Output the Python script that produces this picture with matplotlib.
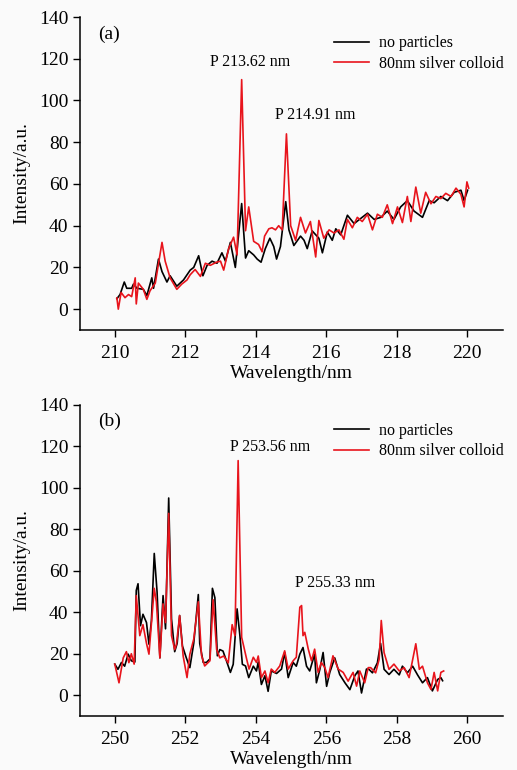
import matplotlib.pyplot as plt

plt.rcParams['font.family'] = ['Liberation Serif', 'DejaVu Serif']

# ---- panel (a): 210-220 nm ----
wl_a_black = [210.06, 210.15, 210.27, 210.34, 210.48, 210.53, 210.63, 210.81, 210.91, 211.05,
              211.10, 211.24, 211.34, 211.48, 211.57, 211.76, 211.95, 212.14, 212.24, 212.38,
              212.50, 212.62, 212.76, 212.90, 213.04, 213.14, 213.28, 213.42, 213.60, 213.71,
              213.80, 213.94, 214.04, 214.15, 214.27, 214.40, 214.51, 214.59, 214.70, 214.85,
              214.94, 215.08, 215.27, 215.37, 215.46, 215.60, 215.79, 215.89, 216.03, 216.17,
              216.27, 216.41, 216.60, 216.79, 216.98, 217.17, 217.36, 217.55, 217.73, 217.92,
              218.11, 218.30, 218.49, 218.73, 218.92, 219.06, 219.25, 219.44, 219.63, 219.82,
              219.91, 220.01]
int_a_black = [5, 7, 13, 10, 10, 12, 10, 9.5, 6.5, 15,
               10, 24, 18, 13, 16, 11, 14, 18.7, 20, 25.6,
               16, 21, 23, 22, 27, 23, 32, 20, 50.6, 24.5,
               28, 26, 24, 22.5, 29, 34, 30, 24, 30, 51.5,
               38, 30.5, 35, 33, 29, 37.5, 34, 27, 37, 33,
               38.5, 35.6, 45, 41, 43.5, 46, 43, 44, 47, 43,
               49, 52, 47, 44, 52, 51, 54, 52, 56, 57,
               52, 57]

wl_a_red = [210.06, 210.10, 210.18, 210.29, 210.39, 210.48, 210.58, 210.61, 210.67, 210.81,
            210.91, 211.00, 211.15, 211.34, 211.43, 211.57, 211.76, 211.90, 212.05, 212.14,
            212.28, 212.43, 212.57, 212.71, 212.90, 213.00, 213.09, 213.23, 213.37, 213.47,
            213.60, 213.71, 213.80, 213.94, 214.08, 214.18, 214.25, 214.37, 214.46, 214.56,
            214.65, 214.75, 214.87, 214.99, 215.13, 215.27, 215.41, 215.55, 215.70, 215.79,
            215.93, 216.08, 216.22, 216.36, 216.50, 216.60, 216.74, 216.88, 217.02, 217.17,
            217.31, 217.45, 217.59, 217.73, 217.88, 218.02, 218.16, 218.30, 218.40, 218.54,
            218.68, 218.82, 218.97, 219.11, 219.25, 219.39, 219.54, 219.68, 219.82, 219.91,
            219.99, 220.04]
int_a_red = [5.4, 0, 8, 5.5, 7, 6, 15, 2.5, 12.5, 9.5,
             4.7, 8.8, 12.5, 32, 23, 15, 9.5, 12, 14, 16.5,
             19, 15.7, 22, 21, 22.6, 23, 18.7, 29, 34.5, 26,
             110, 37.6, 49, 32.5, 31, 27.5, 35, 38.5, 39, 38,
             40, 38, 84, 40, 33, 44, 36.5, 42, 25, 42.5,
             34, 38, 36.5, 38, 33.5, 43, 39, 44, 42, 45.5,
             38, 45.5, 44, 50, 41, 49, 41.5, 54, 42, 58.5,
             46, 56, 50.5, 54, 53, 55.5, 54, 58, 55, 49,
             61, 58]

# ---- panel (b): 250-259.3 nm ----
wl_b_black = [250.00, 250.09, 250.19, 250.28, 250.38, 250.47, 250.57, 250.61, 250.66, 250.73,
              250.80, 250.90, 250.97, 251.04, 251.12, 251.20, 251.28, 251.37, 251.44, 251.53,
              251.61, 251.70, 251.77, 251.84, 251.92, 252.03, 252.13, 252.24, 252.37, 252.41,
              252.51, 252.60, 252.70, 252.77, 252.84, 252.91, 252.98, 253.07, 253.17, 253.28,
              253.36, 253.47, 253.55, 253.62, 253.71, 253.80, 253.93, 254.02, 254.07, 254.16,
              254.26, 254.35, 254.44, 254.59, 254.73, 254.82, 254.92, 255.06, 255.15, 255.25,
              255.34, 255.44, 255.53, 255.67, 255.72, 255.82, 255.91, 256.01, 256.10, 256.24,
              256.38, 256.53, 256.67, 256.81, 256.90, 257.00, 257.14, 257.21, 257.31, 257.45,
              257.54, 257.64, 257.78, 257.92, 258.07, 258.16, 258.30, 258.45, 258.59, 258.73,
              258.87, 259.01, 259.16, 259.25, 259.30]
int_b_black = [15, 12.5, 15.8, 14, 19.8, 16.6, 16, 50.5, 53.7, 33.5,
               39, 35, 24.6, 36, 68.3, 49.8, 18, 48, 32, 95,
               36.8, 21, 25, 38.4, 23.7, 18, 13.3, 25, 48.5, 25,
               15.8, 15.8, 17.5, 51.5, 47, 19, 22, 21.3, 16.5, 11,
               14.9, 41.6, 28.7, 14.9, 14.1, 8.5, 14, 11.7, 16, 5.2,
               9.4, 1.9, 11.7, 10.5, 12.6, 20.6, 8.5, 15.8, 14, 19.8,
               23, 14, 11.7, 19.8, 6, 12.6, 20.6, 4.3, 11, 18,
               10, 6, 2.7, 9.4, 11.7, 1.1, 12.6, 12.5, 10.8, 15.6,
               25, 12.5, 10, 12.5, 9.8, 14, 10.8, 14, 9.8, 6,
               8.5, 2.1, 7.6, 8.5, 7]

wl_b_red = [250.00, 250.12, 250.24, 250.33, 250.40, 250.47, 250.55, 250.61, 250.71, 250.80,
            250.90, 250.97, 251.12, 251.18, 251.28, 251.37, 251.44, 251.53, 251.61, 251.70,
            251.75, 251.84, 251.94, 252.05, 252.13, 252.24, 252.37, 252.46, 252.55, 252.70,
            252.79, 252.89, 252.98, 253.09, 253.22, 253.33, 253.41, 253.50, 253.60, 253.74,
            253.81, 253.93, 254.02, 254.07, 254.16, 254.26, 254.35, 254.44, 254.54, 254.68,
            254.82, 254.92, 255.06, 255.15, 255.25, 255.30, 255.34, 255.39, 255.49, 255.58,
            255.67, 255.77, 255.86, 255.96, 256.05, 256.19, 256.34, 256.48, 256.62, 256.76,
            256.86, 256.95, 257.09, 257.19, 257.26, 257.40, 257.50, 257.56, 257.64, 257.78,
            257.92, 258.07, 258.21, 258.35, 258.54, 258.64, 258.73, 258.87, 258.97, 259.06,
            259.16, 259.25, 259.33]
int_b_red = [15, 6, 18, 21, 15.7, 20, 15, 48, 28.7, 34,
             25, 19.8, 51.5, 45, 18, 44, 35, 87.6, 28.7, 22,
             24.6, 38.4, 18.9, 8.5, 19.8, 27, 45, 19.3, 14.1, 16.6,
             46, 22, 18, 18.9, 15.6, 34, 28.7, 113, 27.9, 17.5,
             12.6, 18.3, 15.8, 18.9, 8.5, 11.7, 6, 12.6, 11, 14.1,
             21.4, 12.6, 16.6, 18.3, 42.4, 43.2, 28.7, 30.3, 22.2, 16.6,
             22.2, 11, 15.8, 13.3, 8.5, 19, 12.6, 11, 6.8, 11,
             4.4, 11.7, 6, 13.3, 13.3, 10.8, 17.3, 36, 20.5, 12.5,
             15, 11.7, 13.3, 8.5, 24.8, 12.5, 14, 6, 2.8, 11,
             2.1, 11, 11.7]

series_labels = ['no particles', '80nm silver colloid']
panel_tags = ['(a)', '(b)']
ticks_a = [210, 212, 214, 216, 218, 220]
ticks_b = [250, 252, 254, 256, 258, 260]
yticks = [0, 20, 40, 60, 80, 100, 120, 140]

RED = '#e8141c'
BG = '#fafafa'

fig = plt.figure(figsize=(5.17, 7.70), dpi=100, facecolor=BG)
ax1 = fig.add_axes([0.1538, 0.5714, 0.8182, 0.4065])
ax2 = fig.add_axes([0.1538, 0.0701, 0.8182, 0.4045])

panels = [
    (ax1, wl_a_black, int_a_black, wl_a_red, int_a_red, ticks_a, (209, 221)),
    (ax2, wl_b_black, int_b_black, wl_b_red, int_b_red, ticks_b, (249, 261)),
]

for i, (ax, xb, yb, xr, yr, xt, xl) in enumerate(panels):
    ax.set_facecolor(BG)
    ax.plot(xb, yb, color='black', lw=1.2, label=series_labels[0])
    ax.plot(xr, yr, color=RED, lw=1.2, label=series_labels[1])
    ax.set_xlim(*xl)
    ax.set_ylim(-10, 140)
    ax.set_xticks(xt)
    ax.set_yticks(yticks)
    ax.spines['top'].set_visible(False)
    ax.spines['right'].set_visible(False)
    for s in ('left', 'bottom'):
        ax.spines[s].set_linewidth(1.1)
    ax.tick_params(direction='out', length=5, width=1, labelsize=14)
    ax.tick_params(axis='x', pad=6)
    ax.tick_params(axis='y', pad=3)
    ax.set_xlabel('Wavelength/nm', fontsize=14, labelpad=2)
    ax.set_ylabel('Intensity/a.u.', fontsize=14, labelpad=6)
    ax.text(0.043, 0.945, panel_tags[i], transform=ax.transAxes, fontsize=14,
            va='center', ha='left')
    ax.legend(loc='upper right', bbox_to_anchor=(1.025, 0.972), frameon=False,
              fontsize=11.5, handlelength=2.2, handletextpad=0.6, labelspacing=0.28,
              borderaxespad=0.2)

ax1.text(213.85, 118.5, 'P 213.62 nm', fontsize=11.5, ha='center', va='center')
ax1.text(215.68, 93.0, 'P 214.91 nm', fontsize=11.5, ha='center', va='center')
ax2.text(254.42, 119.5, 'P 253.56 nm', fontsize=11.5, ha='center', va='center')
ax2.text(256.25, 54.0, 'P 255.33 nm', fontsize=11.5, ha='center', va='center')

fig.savefig('out.png', dpi=100, facecolor=BG)
